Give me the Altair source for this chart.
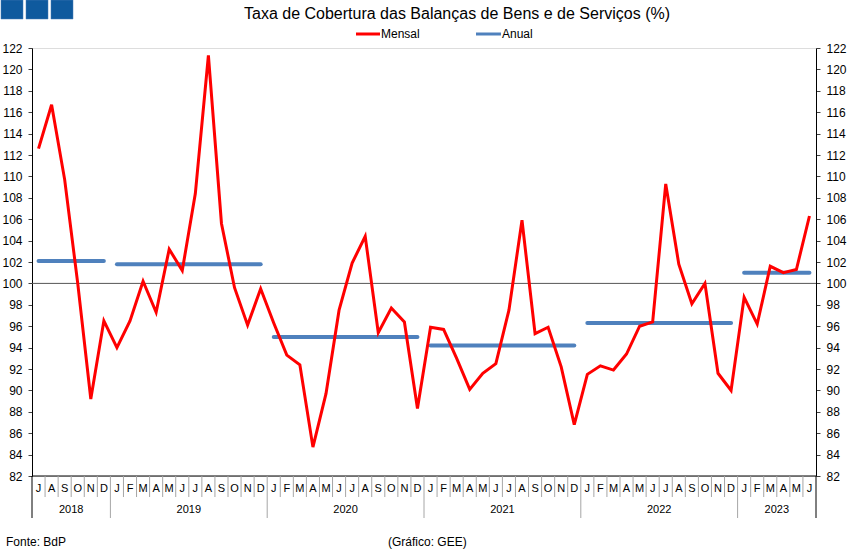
import altair as alt
import pandas as pd

# ---------------- data ----------------
TITLE = "Taxa de Cobertura das Balanças de Bens e de Serviços (%)"
SOURCE = "Fonte: BdP"
CREDIT = "(Gráfico: GEE)"
SERIES_NAMES = ["Mensal", "Anual"]
MONTH_LETTERS = ["J", "F", "M", "A", "M", "J", "J", "A", "S", "O", "N", "D"]
START_YEAR = 2018
START_MONTH = 7

mensal = [
    # 2018 Jul-Dec
    112.6, 116.7, 109.7, 100.0, 89.2, 96.5,
    # 2019
    94.0, 96.5, 100.2, 97.3, 103.2, 101.2, 108.4, 121.3, 105.6, 99.6, 96.1, 99.5,
    # 2020
    96.3, 93.3, 92.4, 84.7, 89.7, 97.5, 101.9, 104.4, 95.4, 97.7, 96.4, 88.3,
    # 2021
    95.9, 95.7, 93.0, 90.1, 91.6, 92.5, 97.5, 105.9, 95.3, 95.9, 92.2, 86.8,
    # 2022
    91.5, 92.3, 91.9, 93.4, 96.0, 96.4, 109.3, 101.8, 98.1, 100.0, 91.6, 90.0,
    # 2023 Jan-Jun
    98.7, 96.2, 101.6, 101.0, 101.3, 106.3,
]
anual_years = [2018, 2019, 2020, 2021, 2022, 2023]
anual_values = [102.1, 101.8, 95.0, 94.2, 96.3, 101.0]
y_ticks = list(range(82, 123, 2))
REF_VALUE = 100

# ---------------- tables ----------------
rows = []
for i, v in enumerate(mensal):
    k = START_MONTH - 1 + i
    rows.append({"idx": i, "pos": i + 0.5, "letter": MONTH_LETTERS[k % 12],
                 "year": START_YEAR + k // 12, "value": v})
months = pd.DataFrame(rows)
N = len(months)

g = months.groupby("year")["idx"].agg(["min", "max"]).reset_index()
years = pd.DataFrame({
    "year": g["year"],
    "start": g["min"] + 0.5,
    "end": g["max"] + 0.5,
    "mid": (g["min"] + g["max"] + 1) / 2.0,
    "first": g["min"],
})
years["label"] = years["year"].astype(str)
years["value"] = [anual_values[anual_years.index(y)] for y in years["year"]]

year_bounds = set(years["first"].tolist())
short_sep = pd.DataFrame({"b": [b for b in range(1, N) if b not in year_bounds]})
year_sep = pd.DataFrame({"b": [b for b in range(1, N) if b in year_bounds]})
end_sep = pd.DataFrame({"b": [0, N]})

# ---------------- layout ----------------
W, H = 784, 428
FONT = "Liberation Sans"
RED = "#ff0000"
BLUE = "#4f81bd"

xs = alt.Scale(domain=[0, N], nice=False, zero=False)
ys = alt.Scale(domain=[y_ticks[0], y_ticks[-1]], nice=False, zero=False)


def yaxis(orient):
    return alt.Axis(orient=orient, values=y_ticks, tickSize=4, labelPadding=6,
                    grid=False, domainColor="black", tickColor="#404040",
                    labelFont=FONT, labelFontSize=12, labelColor="black",
                    title=None)


ref = alt.Chart(pd.DataFrame({"v": [REF_VALUE]})).mark_rule(
    color="#555555", strokeWidth=1
).encode(y=alt.Y("v:Q", scale=ys, axis=yaxis("left")),
         x=alt.value(0), x2=alt.value(W))

line = alt.Chart(months).mark_line(color=RED, strokeWidth=3).encode(
    x=alt.X("pos:Q", scale=xs, axis=None),
    y=alt.Y("value:Q", scale=ys, axis=yaxis("left")),
)

annual = alt.Chart(years).mark_rule(color=BLUE, strokeWidth=4, strokeCap="round").encode(
    x=alt.X("start:Q", scale=xs, axis=None),
    x2="end:Q",
    y=alt.Y("value:Q", scale=ys, axis=yaxis("left")),
)

bottom = alt.Chart(pd.DataFrame({"v": [0]})).mark_rule(color="black", strokeWidth=1).encode(
    x=alt.value(0), x2=alt.value(W), y=alt.value(H)
)

sep1 = alt.Chart(short_sep).mark_rule(color="#a6a6a6", strokeWidth=1).encode(
    x=alt.X("b:Q", scale=xs, axis=None), y=alt.value(H), y2=alt.value(H + 21))
sep2 = alt.Chart(year_sep).mark_rule(color="#a6a6a6", strokeWidth=1).encode(
    x=alt.X("b:Q", scale=xs, axis=None), y=alt.value(H), y2=alt.value(H + 42))
sep3 = alt.Chart(end_sep).mark_rule(color="black", strokeWidth=1).encode(
    x=alt.X("b:Q", scale=xs, axis=None), y=alt.value(H), y2=alt.value(H + 42))

mlabels = alt.Chart(months).mark_text(font=FONT, fontSize=11, color="black",
                                      baseline="middle", align="center").encode(
    x=alt.X("pos:Q", scale=xs, axis=None), y=alt.value(H + 13), text="letter:N")
ylabels = alt.Chart(years).mark_text(font=FONT, fontSize=11, color="black",
                                     baseline="middle", align="center").encode(
    x=alt.X("mid:Q", scale=xs, axis=None), y=alt.value(H + 34), text="label:N")


def label(text, x, y, size, align="left"):
    return alt.Chart(pd.DataFrame({"t": [text]})).mark_text(
        font=FONT, fontSize=size, color="black", align=align, baseline="middle"
    ).encode(x=alt.value(x), y=alt.value(y), text="t:N")


title = label(TITLE, 425, -34, 16, "center")
leg_red = alt.Chart(pd.DataFrame({"v": [0]})).mark_rule(color=RED, strokeWidth=3).encode(
    x=alt.value(324), x2=alt.value(348), y=alt.value(-14))
leg_blue = alt.Chart(pd.DataFrame({"v": [0]})).mark_rule(color=BLUE, strokeWidth=3).encode(
    x=alt.value(444), x2=alt.value(469), y=alt.value(-14))
leg_t1 = label(SERIES_NAMES[0], 349, -14, 12)
leg_t2 = label(SERIES_NAMES[1], 470, -14, 12)
src = label(SOURCE, -26, 494, 12)
cred = label(CREDIT, 356, 494, 12)

squares = []
for x0 in [-31, -6, 19]:
    squares.append(alt.Chart(pd.DataFrame({"v": [0]})).mark_rect(
        color="#0f5a9e", stroke="#4a7fb5", strokeWidth=0.5).encode(
        x=alt.value(x0), x2=alt.value(x0 + 22), y=alt.value(-48), y2=alt.value(-29)))

main = alt.layer(ref, annual, line, bottom, sep1, sep2, sep3, mlabels, ylabels,
                 title, leg_red, leg_blue, leg_t1, leg_t2, src, cred, *squares)

right = alt.Chart(pd.DataFrame({"v": [REF_VALUE]})).mark_rule(
    color="#555555", strokeWidth=1, opacity=0
).encode(y=alt.Y("v:Q", scale=ys, axis=yaxis("right")),
         x=alt.value(0), x2=alt.value(W))

chart = alt.layer(main, right).resolve_scale(y="independent").properties(
    width=W, height=H,
    padding={"left": 32, "top": 48, "right": 34, "bottom": 78},
    autosize=alt.AutoSizeParams(type="none"),
).configure_view(stroke=None).configure(background="white")

chart.save("out.html", embed_options={"renderer": "svg", "actions": False})
